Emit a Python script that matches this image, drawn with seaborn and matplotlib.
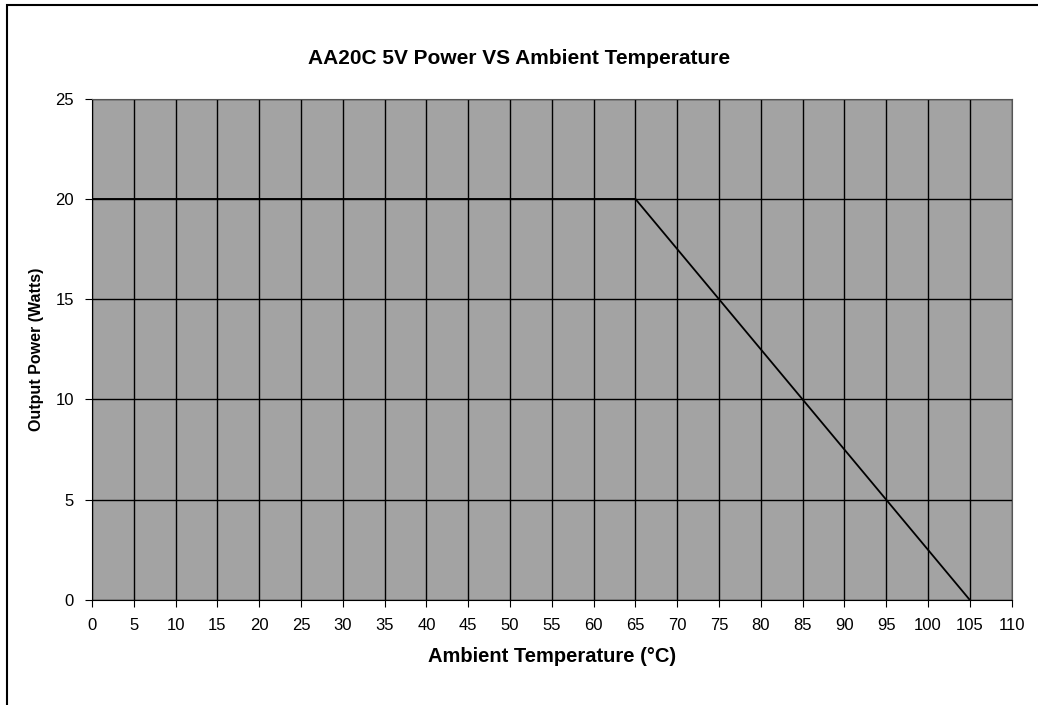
import matplotlib
matplotlib.use('Agg')
import matplotlib.pyplot as plt
import seaborn as sns
import pandas as pd
from matplotlib.patches import Rectangle

# derating curve
temps = [0, 65, 105]
power = [20, 20, 0]
x_ticks = list(range(0, 115, 5))
y_ticks = [0, 5, 10, 15, 20, 25]

df = pd.DataFrame({'temp': temps, 'power': power})

sns.set_style('ticks')
plt.rcParams['font.family'] = ['Liberation Sans', 'DejaVu Sans']
plt.rcParams['text.color'] = 'black'
plt.rcParams['axes.labelcolor'] = 'black'
plt.rcParams['xtick.color'] = 'black'
plt.rcParams['ytick.color'] = 'black'

fig = plt.figure(figsize=(10.38, 7.05), dpi=100)
ax = fig.add_axes([0.0886, 0.149, 0.886, 0.711])
ax.set_facecolor('#a3a3a3')

sns.lineplot(data=df, x='temp', y='power', color='black', linewidth=1.3, ax=ax)

ax.set_xlim(0, 110)
ax.set_ylim(0, 25)
ax.set_xticks(x_ticks)
ax.set_yticks(y_ticks)
ax.grid(True, color='black', linewidth=1.0)
ax.set_axisbelow(True)
for s in ax.spines.values():
    s.set_color('#555555')
    s.set_linewidth(0.8)
ax.spines['left'].set_color('black')
ax.spines['bottom'].set_color('black')
ax.tick_params(axis='both', labelsize=12, length=5, pad=8)

ax.set_xlabel('Ambient Temperature (°C)', fontsize=14.5, fontweight='bold', labelpad=10)
ax.set_ylabel('Output Power (Watts)', fontsize=11.5, fontweight='bold', labelpad=8)
fig.suptitle('AA20C 5V Power VS Ambient Temperature', fontsize=15, fontweight='bold', y=0.93)

# outer chart border (scan shows top and left edges)
fig.patches.append(Rectangle((0.007, -0.05), 1.05, 1.043, transform=fig.transFigure,
                             fill=False, edgecolor='black', linewidth=1.5))

fig.savefig('out.png', dpi=100)
